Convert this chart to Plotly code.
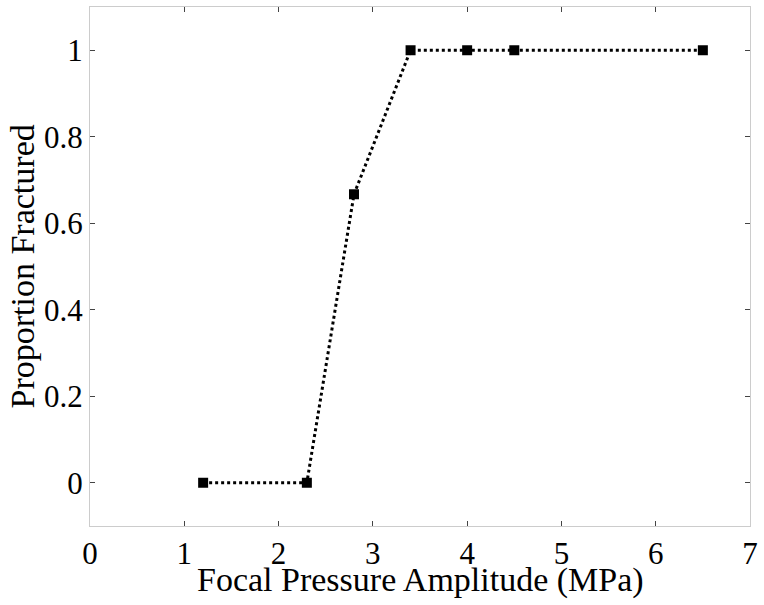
import plotly.graph_objects as go

pressure = [1.2, 2.3, 2.8, 3.4, 4.0, 4.5, 6.5]
proportion = [0, 0, 0.667, 1, 1, 1, 1]
x_ticks = [0, 1, 2, 3, 4, 5, 6, 7]
y_ticks = [0, 0.2, 0.4, 0.6, 0.8, 1]
y_tick_text = ["0", "0.2", "0.4", "0.6", "0.8", "1"]
x_title = "Focal Pressure Amplitude (MPa)"
y_title = "Proportion Fractured"

fig = go.Figure(go.Scatter(
    x=pressure, y=proportion, mode="lines+markers",
    line=dict(color="black", width=3, dash="dot"),
    marker=dict(symbol="square", size=10, color="black"),
))

axis_common = dict(
    showgrid=False, zeroline=False, showline=True, linecolor="#cccccc", linewidth=1,
    mirror="ticks", ticks="inside", ticklen=5, tickcolor="#444444", tickwidth=1,
    automargin=False,
    tickfont=dict(family="Liberation Serif", size=31, color="black"),
)
fig.update_xaxes(range=[0, 7], tickvals=x_ticks, **axis_common)
fig.update_yaxes(range=[-0.1, 1.1], tickvals=y_ticks, ticktext=y_tick_text, **axis_common)

title_font = dict(family="Liberation Serif", size=34, color="black")
fig.add_annotation(text=x_title, xref="paper", yref="paper", x=0.5, y=0,
                   xanchor="center", yanchor="middle", yshift=-54,
                   showarrow=False, font=title_font)
fig.add_annotation(text=y_title, xref="paper", yref="paper", x=0, y=0.5,
                   xanchor="center", yanchor="middle", xshift=-68, textangle=-90,
                   showarrow=False, font=title_font)

fig.update_layout(
    width=764, height=605, showlegend=False,
    margin=dict(l=90, r=14, t=7, b=79),
    plot_bgcolor="white", paper_bgcolor="white",
)
fig.write_html("out.html", config={"displayModeBar": False},
               post_script="document.body.style.margin='0';")
